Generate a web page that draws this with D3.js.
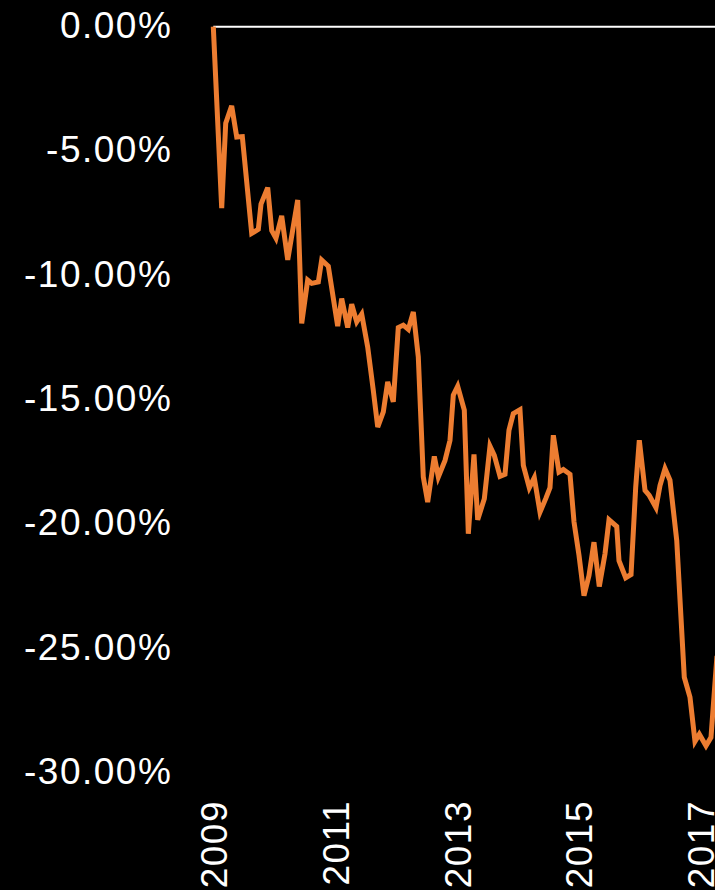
<!DOCTYPE html>
<html>
<head>
<meta charset="utf-8">
<script src="https://cdn.jsdelivr.net/npm/d3@7"></script>
<style>
  html, body { margin: 0; padding: 0; background: #000; overflow: hidden; }
  svg { display: block; background: #000; }
  .tick text { font-family: "Liberation Sans", Arial, sans-serif; font-size: 37px; fill: #fff; letter-spacing: 1.5px; }
</style>
</head>
<body>
<svg id="chart" width="715" height="890"></svg>
<script>
// Time in fractional years, value = cumulative relative performance (%)
const years = [
  2009.000, 2009.138, 2009.204, 2009.302, 2009.385, 2009.477, 2009.631, 2009.740, 2009.784, 2009.894,
  2009.960, 2010.030, 2010.124, 2010.223, 2010.387, 2010.453, 2010.551, 2010.617, 2010.726, 2010.781,
  2010.890, 2011.044, 2011.110, 2011.209, 2011.274, 2011.357, 2011.439, 2011.537, 2011.629, 2011.702,
  2011.794, 2011.866, 2011.958, 2012.040, 2012.122, 2012.205, 2012.287, 2012.369, 2012.451, 2012.523,
  2012.632, 2012.698, 2012.808, 2012.890, 2012.944, 2013.016, 2013.125, 2013.191, 2013.284, 2013.345,
  2013.454, 2013.547, 2013.618, 2013.712, 2013.794, 2013.859, 2013.930, 2014.040, 2014.095, 2014.193,
  2014.275, 2014.369, 2014.463, 2014.533, 2014.588, 2014.681, 2014.752, 2014.862, 2014.928, 2015.010,
  2015.092, 2015.174, 2015.256, 2015.343, 2015.437, 2015.503, 2015.630, 2015.667, 2015.777, 2015.865,
  2015.942, 2016.001, 2016.095, 2016.165, 2016.275, 2016.341, 2016.423, 2016.505, 2016.616, 2016.740,
  2016.834, 2016.916, 2016.987, 2017.097, 2017.179, 2017.277
];
const values = [
   0.00,  -7.30,  -3.88,  -3.18,  -4.44,  -4.42,  -8.31,  -8.15,  -7.13,  -6.47,
  -8.20,  -8.51,  -7.61,  -9.38,  -6.97, -11.93, -10.19, -10.32, -10.26,  -9.38,
  -9.63, -12.04, -10.93, -12.10, -11.16, -11.87, -11.56, -12.88, -14.62, -16.10,
 -15.49, -14.28, -15.09, -12.10, -12.00, -12.17, -11.47, -13.28, -18.11, -19.12,
 -17.28, -18.11, -17.44, -16.63, -14.82, -14.46, -15.42, -20.39, -17.20, -19.83,
 -18.98, -16.87, -17.24, -18.08, -18.00, -16.23, -15.56, -15.40, -17.64, -18.54,
 -18.14, -19.52, -18.98, -18.54, -16.43, -17.91, -17.81, -18.00, -19.92, -21.26,
 -22.88, -22.07, -20.73, -22.51, -21.20, -19.83, -20.10, -21.47, -22.16, -22.03,
 -18.51, -16.63, -18.65, -18.85, -19.34, -18.45, -17.77, -18.24, -20.66, -26.16,
 -26.97, -28.74, -28.45, -28.92, -28.58, -25.30
];
const baseline = 0;          // reference level drawn in white
const yTicks = [0, -5, -10, -15, -20, -25, -30];
const xTicks = [2009, 2011, 2013, 2015, 2017];

const svg = d3.select("#chart");

const x = d3.scaleLinear().domain([2009, 2017]).range([213.3, 700.1]);
const y = d3.scaleLinear().domain([-30, 0]).range([772.7, 26.7]);

const data = years.map((t, i) => ({ t, v: values[i] }));

// Y axis
const yAxis = svg.append("g")
  .attr("transform", `translate(${x(2009)},0)`)
  .call(d3.axisLeft(y).tickValues(yTicks).tickSize(0).tickPadding(41)
    .tickFormat(v => v.toFixed(2) + "%"));
yAxis.select(".domain").remove();
yAxis.selectAll(".tick text").attr("dy", "0.29em");

// X axis
const xAxis = svg.append("g")
  .attr("transform", "translate(0,800)")
  .call(d3.axisBottom(x).tickValues(xTicks).tickSize(0).tickFormat(d3.format("d")));
xAxis.select(".domain").remove();
xAxis.selectAll(".tick text")
  .attr("transform", "rotate(-90)")
  .attr("x", 0)
  .attr("y", 0)
  .attr("dy", "0.36em")
  .attr("text-anchor", "end");

// White reference line
svg.append("line")
  .attr("x1", x(years[0]))
  .attr("x2", x(years[years.length - 1]))
  .attr("y1", y(baseline))
  .attr("y2", y(baseline))
  .attr("stroke", "#fff")
  .attr("stroke-width", 2);

// Orange series
svg.append("path")
  .datum(data)
  .attr("fill", "none")
  .attr("stroke", "#ED7D31")
  .attr("stroke-width", 5)
  .attr("d", d3.line().x(d => x(d.t)).y(d => y(d.v)));
</script>
</body>
</html>
